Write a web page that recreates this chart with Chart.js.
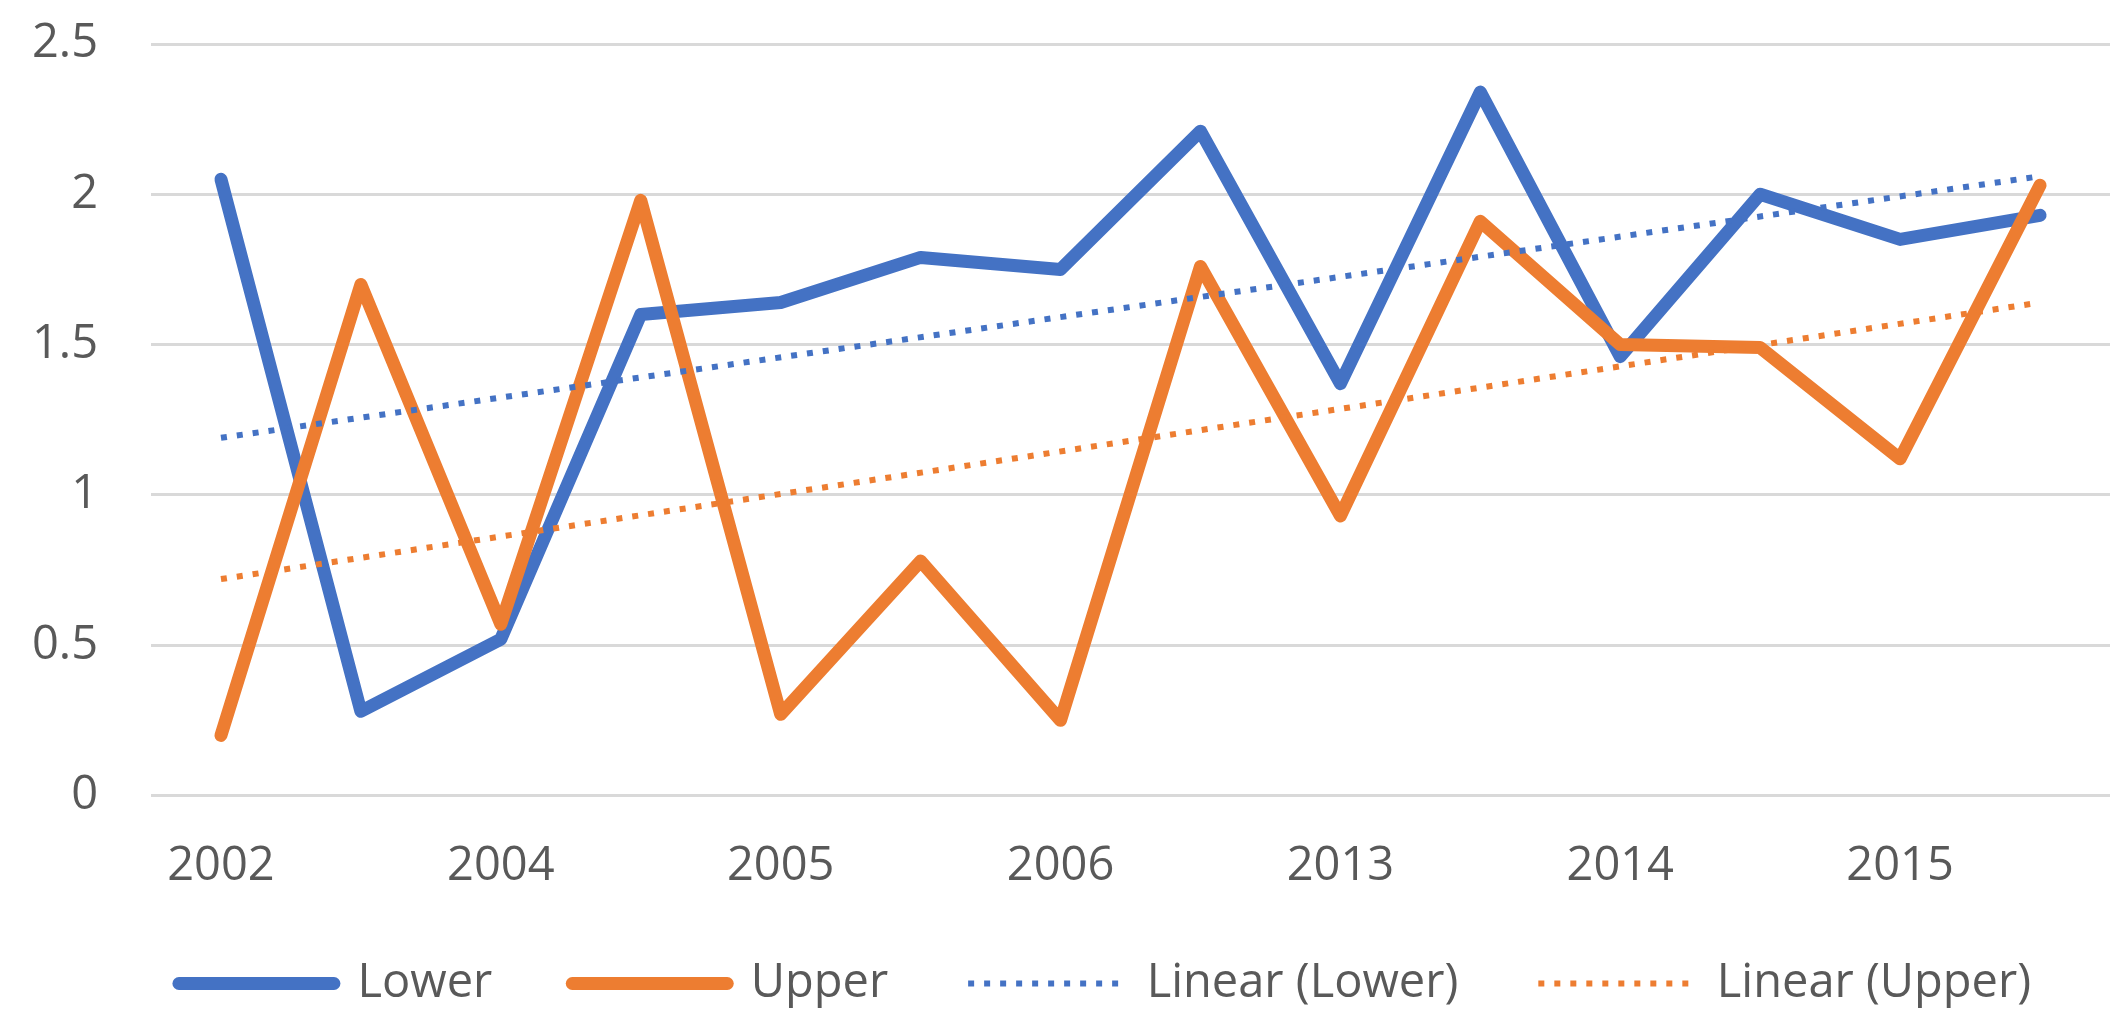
<!DOCTYPE html>
<html>
<head>
<meta charset="utf-8">
<script src="https://cdn.jsdelivr.net/npm/chart.js@4.4.1/dist/chart.umd.min.js"></script>
<style>
  html, body { margin: 0; padding: 0; background: #ffffff; }
  #wrap { width: 2123px; height: 1010px; position: relative; }
</style>
</head>
<body>
<div id="wrap"><canvas id="c" width="2123" height="1010"></canvas></div>
<script>
// ---- data ----
const categories = ['2002', '', '2004', '', '2005', '', '2006', '', '2013', '', '2014', '', '2015', ''];
const lowerValues = [2.05, 0.28, 0.52, 1.60, 1.64, 1.79, 1.75, 2.21, 1.37, 2.34, 1.46, 2.00, 1.85, 1.93];
const upperValues = [0.20, 1.70, 0.57, 1.98, 0.27, 0.78, 0.25, 1.76, 0.93, 1.91, 1.50, 1.49, 1.12, 2.03];
// linear trend lines: start and end values
const trendLowerValues = [1.19, null, null, null, null, null, null, null, null, null, null, null, null, 2.06];
const trendUpperValues = [0.72, null, null, null, null, null, null, null, null, null, null, null, null, 1.64];
const seriesNames = ['Lower', 'Upper', 'Linear (Lower)', 'Linear (Upper)'];
const yTicks = [0, 0.5, 1, 1.5, 2, 2.5];

const BLUE = '#4472C4';
const ORANGE = '#ED7D31';
const TEXT = '#595959';
const FONT = "'Open Sans', 'Noto Sans', sans-serif";

// shifts the legend horizontally to where the reference places it
const legendShift = {
  id: 'legendShift',
  afterLayout(chart) {
    if (chart.legend) { chart.legend.left += 50; chart.legend.right += 50; }
  }
};

const ctx = document.getElementById('c').getContext('2d');
new Chart(ctx, {
  type: 'line',
  plugins: [legendShift],
  data: {
    labels: categories,
    datasets: [
      { label: seriesNames[0], data: lowerValues, borderColor: BLUE, backgroundColor: BLUE,
        borderWidth: 13, borderCapStyle: 'round', borderJoinStyle: 'round', pointRadius: 0, tension: 0, order: 4 },
      { label: seriesNames[1], data: upperValues, borderColor: ORANGE, backgroundColor: ORANGE,
        borderWidth: 13, borderCapStyle: 'round', borderJoinStyle: 'round', pointRadius: 0, tension: 0, order: 3 },
      { label: seriesNames[2], data: trendLowerValues, borderColor: BLUE, backgroundColor: BLUE,
        borderWidth: 6, borderDash: [6, 10], borderCapStyle: 'butt', pointRadius: 0, spanGaps: true, tension: 0, order: 2 },
      { label: seriesNames[3], data: trendUpperValues, borderColor: ORANGE, backgroundColor: ORANGE,
        borderWidth: 6, borderDash: [6, 10], borderCapStyle: 'butt', pointRadius: 0, spanGaps: true, tension: 0, order: 1 }
    ]
  },
  options: {
    responsive: false,
    animation: false,
    devicePixelRatio: 1,
    layout: { padding: { left: 0, right: 13, top: 44, bottom: -7 } },
    plugins: {
      tooltip: { enabled: false },
      legend: {
        position: 'bottom',
        labels: {
          usePointStyle: true,
          pointStyle: 'line',
          pointStyleWidth: 155,
          boxHeight: 12,
          padding: 80,
          color: TEXT,
          font: { family: FONT, size: 47 },
          generateLabels: (chart) => chart.data.datasets.map((ds, i) => ({
            text: ds.label,
            fillStyle: ds.borderColor,
            strokeStyle: ds.borderColor,
            lineWidth: ds.borderWidth,
            lineDash: ds.borderDash || [],
            lineCap: ds.borderCapStyle,
            pointStyle: 'line',
            fontColor: TEXT,
            hidden: false,
            datasetIndex: i
          }))
        }
      }
    },
    scales: {
      x: {
        offset: true,
        grid: { display: false, drawTicks: false },
        border: { display: false },
        ticks: { color: TEXT, font: { family: FONT, size: 47 }, padding: 43, autoSkip: false, maxRotation: 0 },
        afterFit: (s) => { s.height = 84.5; }
      },
      y: {
        min: 0, max: 2.5,
        afterBuildTicks: (s) => { s.ticks = yTicks.map(v => ({ value: v })); },
        grid: { color: '#D9D9D9', lineWidth: 3, drawTicks: false },
        border: { display: false },
        ticks: { color: TEXT, font: { family: FONT, size: 47 }, padding: 53, callback: (v) => String(v) },
        afterFit: (s) => { s.width = 151; s.paddingTop = 20; s.paddingBottom = 20; }
      }
    }
  }
});
</script>
</body>
</html>
